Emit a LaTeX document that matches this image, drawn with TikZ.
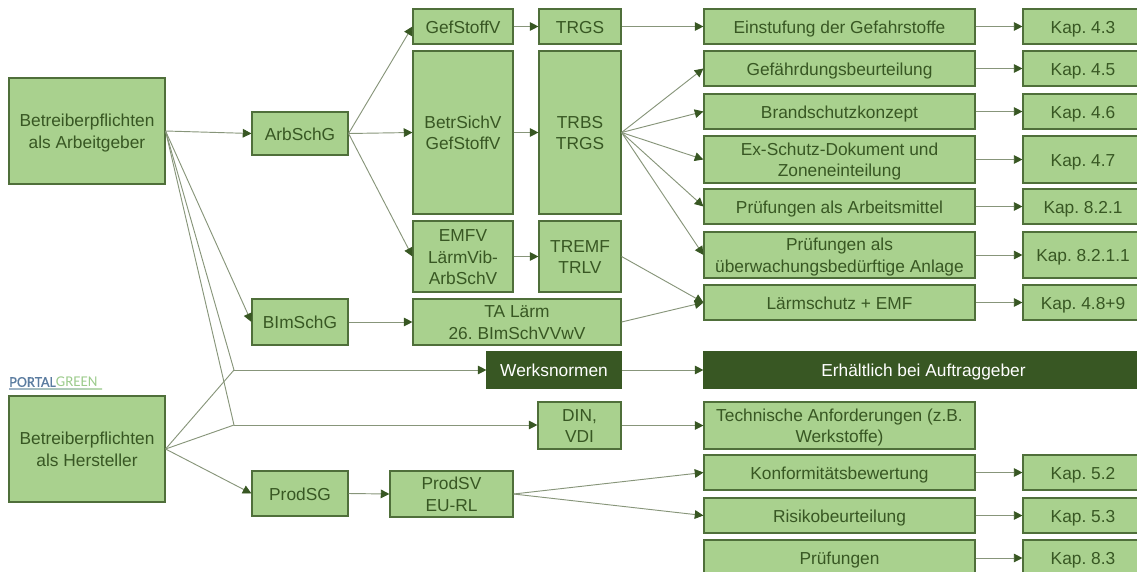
\documentclass[tikz,border=0pt]{standalone}
\usepackage{fontspec}
\setmainfont{Liberation Sans}
\newfontfamily\logofont{Carlito}
\usetikzlibrary{arrows.meta,calc}
\definecolor{boxfill}{HTML}{A9D18E}
\definecolor{boxline}{HTML}{4F6F3A}
\definecolor{darkg}{HTML}{385723}
\definecolor{conn}{HTML}{87957A}
\definecolor{logoblue}{HTML}{5B7CA0}
\definecolor{logogreen}{HTML}{9CCB8C}
\newcommand{\bx}[7][gbox]{\node[#1,minimum width={(#5-#3)*0.75pt},minimum height={(#6-#4)*0.75pt}] (#2) at ({(#3+#5)/2},{(#4+#6)/2}) {\raisebox{-1.7pt}[\height][\depth]{\begin{tabular}{@{}c@{}}#7\end{tabular}}};}
\tikzset{
 x=0.75pt,y=-0.75pt,
 gbox/.style={draw=boxline,line width=0.85pt,fill=boxfill,text=darkg,inner sep=0pt,font=\fontsize{13pt}{16.2pt}\selectfont\frenchspacing},
 dbox/.style={gbox,draw=darkg,fill=darkg,text=white},
 conline/.style={draw=conn,line width=0.7pt},
 con/.style={conline,-{Triangle[color=darkg,length=6.5pt,width=6.5pt]}},
}
\begin{document}
\begin{tikzpicture}
\useasboundingbox (0,0) rectangle (1137,571);
\clip (0,0) rectangle (1137,571);
\bx{ag}{9}{78}{165}{184}{Betreiberpflichten\\als Arbeitgeber}
\bx{he}{9}{396}{165}{502}{Betreiberpflichten\\als Hersteller}
\bx{arb}{252}{112}{348}{155}{ArbSchG}
\bx{bim}{252}{299}{348}{345}{BImSchG}
\bx{psg}{252}{471}{348}{516}{ProdSG}
\bx{psv}{390}{471}{513}{517}{ProdSV\\EU-RL}
\bx{gef}{413}{9}{513}{44}{GefStoffV}
\bx{bet}{413}{51}{513}{214}{BetrSichV\\GefStoffV}
\bx{emf}{413}{221}{513}{292}{EMFV\\LärmVib-\\ArbSchV}
\bx{tal}{413}{299}{621}{345}{TA Lärm\\26. BImSchVVwV}
\bx[dbox]{wer}{487}{352}{621}{388}{Werksnormen}
\bx{din}{538}{402}{621}{449}{DIN,\\VDI}
\bx{trg}{539}{9}{621}{44}{TRGS}
\bx{trb}{539}{51}{621}{214}{TRBS\\TRGS}
\bx{tre}{539}{221}{621}{292}{TREMF\\TRLV}
\bx{ein}{704}{9}{975}{44}{Einstufung der Gefahrstoffe}
\bx{gfb}{704}{51}{975}{86}{Gefährdungsbeurteilung}
\bx{bra}{704}{94}{975}{129}{Brandschutzkonzept}
\bx{exs}{704}{136}{975}{183}{Ex-Schutz-Dokument und\\Zoneneinteilung}
\bx{pam}{704}{189}{975}{224}{Prüfungen als Arbeitsmittel}
\bx{pub}{704}{232}{975}{278}{Prüfungen als\\überwachungsbedürftige Anlage}
\bx{lae}{704}{285}{975}{320}{Lärmschutz + EMF}
\bx[dbox]{erh}{704}{352}{1143}{388}{Erhältlich bei Auftraggeber}
\bx{tec}{704}{402}{975}{449}{Technische Anforderungen (z.B.\\Werkstoffe)}
\bx{kon}{704}{455}{975}{490}{Konformitätsbewertung}
\bx{ris}{704}{498}{975}{533}{Risikobeurteilung}
\bx{pru}{704}{540}{975}{576}{Prüfungen}
\bx{k1}{1023}{9}{1143}{44}{Kap. 4.3}
\bx{k2}{1023}{51}{1143}{86}{Kap. 4.5}
\bx{k3}{1023}{94}{1143}{129}{Kap. 4.6}
\bx{k4}{1023}{136}{1143}{183}{Kap. 4.7}
\bx{k5}{1023}{189}{1143}{224}{Kap. 8.2.1}
\bx{k6}{1023}{232}{1143}{278}{Kap. 8.2.1.1}
\bx{k7}{1023}{285}{1143}{320}{Kap. 4.8+9}
\bx{k8}{1023}{455}{1143}{490}{Kap. 5.2}
\bx{k9}{1023}{498}{1143}{533}{Kap. 5.3}
\bx{k10}{1023}{540}{1143}{576}{Kap. 8.3}
\node[anchor=west,inner sep=0pt,font=\logofont\fontsize{11.2pt}{12pt}\selectfont] (logo) at (9,382) {\textcolor{logoblue}{\addfontfeature{FakeBold=0.6}PORTAL}\textcolor{logogreen}{GREEN}};
\fill[left color=logoblue!60!white,right color=logogreen!70!white] (9,388.5) rectangle (102,389.7);
\coordinate (j1) at (234,370);
\coordinate (j2) at (234,425);
\draw[con] (ag.east) -- (arb.west);
\draw[con] (ag.east) -- (bim.west);
\draw[conline] (ag.east) -- (j1);
\draw[conline] (ag.east) -- (j2);
\draw[conline] (he.east) -- (j1);
\draw[conline] (he.east) -- (j2);
\draw[con] (he.east) -- (psg.west);
\draw[con] (j1) -- (j1 -| wer.west);
\draw[con] (j2) -- (j2 -| din.west);
\draw[con] (arb.east) -- (gef.west);
\draw[con] (arb.east) -- (bet.west);
\draw[con] (arb.east) -- (emf.west);
\draw[con] (bim.east) -- (tal.west);
\draw[con] (psg.east) -- (psv.west);
\draw[con] (gef.east) -- (trg.west);
\draw[con] (bet.east) -- (trb.west);
\draw[con] (emf.east) -- (tre.west);
\draw[con] (trg.east) -- (ein.west);
\draw[con] (trb.east) -- (gfb.west);
\draw[con] (trb.east) -- (bra.west);
\draw[con] (trb.east) -- (exs.west);
\draw[con] (trb.east) -- (pam.west);
\draw[con] (trb.east) -- (pub.west);
\draw[con] (tre.east) -- (lae.west);
\draw[con] (tal.east) -- (lae.west);
\draw[con] (wer.east) -- (erh.west);
\draw[con] (din.east) -- (tec.west);
\draw[con] (psv.east) -- (kon.west);
\draw[con] (psv.east) -- (ris.west);
\draw[con] (ein.east) -- (k1.west);
\draw[con] (gfb.east) -- (k2.west);
\draw[con] (bra.east) -- (k3.west);
\draw[con] (exs.east) -- (k4.west);
\draw[con] (pam.east) -- (k5.west);
\draw[con] (pub.east) -- (k6.west);
\draw[con] (lae.east) -- (k7.west);
\draw[con] (kon.east) -- (k8.west);
\draw[con] (ris.east) -- (k9.west);
\draw[con] (pru.east) -- (k10.west);
\end{tikzpicture}
\end{document}
